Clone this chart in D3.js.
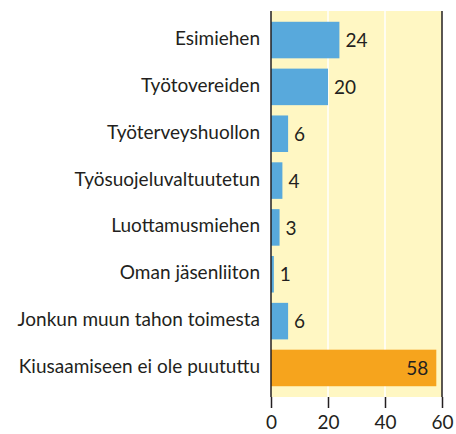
<!DOCTYPE html>
<html>
<head>
<meta charset="utf-8">
<script src="https://cdn.jsdelivr.net/npm/d3@7"></script>
<style>
  body { margin: 0; background: #fff; }
  svg text { font-family: Lato, "Open Sans", sans-serif; fill: #231f20; }
</style>
</head>
<body>
<div id="chart"></div>
<script>
const categories = [
    "Esimiehen",
    "Työtovereiden",
    "Työterveyshuollon",
    "Työsuojeluvaltuutetun",
    "Luottamusmiehen",
    "Oman jäsenliiton",
    "Jonkun muun tahon toimesta",
    "Kiusaamiseen ei ole puututtu"
];
const values = [24, 20, 6, 4, 3, 1, 6, 58];
const highlight = ["Kiusaamiseen ei ole puututtu"];
const xTicks = [0, 20, 40, 60];

const width = 456, height = 434;
const margin = {top: 11, right: 14, bottom: 37, left: 271};

const svg = d3.select("#chart").append("svg")
    .attr("width", width)
    .attr("height", height);

const x = d3.scaleLinear()
    .domain([0, 60])
    .range([margin.left, width - margin.right]);

const y = d3.scaleBand()
    .domain(categories)
    .range([margin.top, height - margin.bottom])
    .paddingInner(0.22)
    .paddingOuter(0.23);

// plot background
svg.append("rect")
    .attr("x", x(0))
    .attr("y", margin.top)
    .attr("width", x(60) - x(0))
    .attr("height", height - margin.bottom - margin.top)
    .attr("fill", "#fff7c3");

// white gridlines
svg.append("g")
    .selectAll("line")
    .data(xTicks.filter(d => d > 0 && d < 60))
    .enter().append("line")
        .attr("x1", d => x(d))
        .attr("x2", d => x(d))
        .attr("y1", margin.top)
        .attr("y2", height - margin.bottom)
        .attr("stroke", "#fff")
        .attr("stroke-width", 1.5);

// bars
svg.append("g")
    .selectAll("rect")
    .data(categories)
    .enter().append("rect")
        .attr("x", x(0))
        .attr("y", d => y(d))
        .attr("width", (d, i) => x(values[i]) - x(0))
        .attr("height", y.bandwidth())
        .attr("fill", d => highlight.includes(d) ? "#f6a41d" : "#58a9dc");

// left and right border lines
svg.append("g")
    .selectAll("line")
    .data([0, 60])
    .enter().append("line")
        .attr("x1", d => x(d))
        .attr("x2", d => x(d))
        .attr("y1", margin.top)
        .attr("y2", height - margin.bottom)
        .attr("stroke", "#231f20")
        .attr("stroke-width", 1.5);

// category labels
svg.append("g")
    .style("font-size", "19px")
    .selectAll("text")
    .data(categories)
    .enter().append("text")
        .attr("x", x(0) - 11)
        .attr("y", d => y(d) + y.bandwidth() / 2)
        .attr("dy", "0.26em")
        .attr("text-anchor", "end")
        .text(d => d);

// value labels
svg.append("g")
    .style("font-size", "19px")
    .selectAll("text")
    .data(categories)
    .enter().append("text")
        .attr("x", (d, i) => highlight.includes(d) ? x(values[i]) - 8 : x(values[i]) + 6)
        .attr("y", d => y(d) + y.bandwidth() / 2)
        .attr("dy", "0.38em")
        .attr("text-anchor", d => highlight.includes(d) ? "end" : "start")
        .text((d, i) => values[i]);

// x axis
const xAxis = svg.append("g")
    .attr("transform", `translate(0,${height - margin.bottom})`)
    .call(d3.axisBottom(x).tickValues(xTicks).tickSize(11).tickPadding(8));
xAxis.select(".domain").remove();
xAxis.selectAll("line").attr("stroke", "#231f20").attr("stroke-width", 1.5);
xAxis.selectAll("text")
    .style("font-size", "19px")
    .style("font-family", "Lato, 'Open Sans', sans-serif")
    .attr("fill", "#231f20");
</script>
</body>
</html>
